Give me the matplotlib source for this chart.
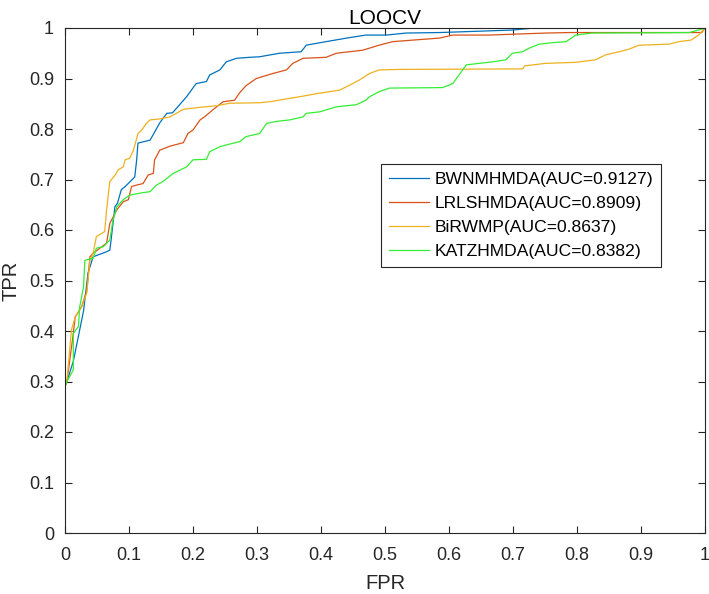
import matplotlib
matplotlib.use('Agg')
import matplotlib.pyplot as plt

plt.rcParams['font.family'] = ['Liberation Sans', 'DejaVu Sans']

labels = ['BWNMHMDA(AUC=0.9127)', 'LRLSHMDA(AUC=0.8909)',
          'BiRWMP(AUC=0.8637)', 'KATZHMDA(AUC=0.8382)']
colors = ['#0072BD', '#D95319', '#EDB120', '#33EE33']

# values
bwn_fpr = [0, 0, 0.003, 0.013, 0.029, 0.036, 0.044, 0.065, 0.07, 0.072, 0.078, 0.082, 0.088, 0.094,
           0.109, 0.112, 0.114, 0.133, 0.148, 0.159, 0.168, 0.19, 0.205, 0.221, 0.226, 0.242, 0.252,
           0.268, 0.289, 0.304, 0.335, 0.369, 0.377, 0.408, 0.44, 0.47, 0.502, 0.533, 0.585, 0.632,
           0.70, 0.733, 1.0]
bwn_tpr = [0, 0.29, 0.30, 0.34, 0.44, 0.515, 0.547, 0.557, 0.56, 0.58, 0.646, 0.653, 0.68, 0.686,
           0.705, 0.739, 0.772, 0.778, 0.812, 0.831, 0.832, 0.864, 0.89, 0.894, 0.907, 0.917, 0.933,
           0.94, 0.942, 0.943, 0.95, 0.953, 0.966, 0.973, 0.98, 0.986, 0.986, 0.99, 0.991, 0.993,
           0.996, 1.0, 1.0]

lrl_fpr = [0, 0, 0.003, 0.013, 0.016, 0.026, 0.034, 0.039, 0.044, 0.065, 0.07, 0.081, 0.091, 0.099,
           0.104, 0.112, 0.122, 0.13, 0.138, 0.14, 0.148, 0.164, 0.185, 0.192, 0.2, 0.211, 0.218,
           0.231, 0.247, 0.265, 0.273, 0.283, 0.299, 0.325, 0.346, 0.356, 0.372, 0.408, 0.424, 0.465,
           0.491, 0.512, 0.543, 0.585, 0.606, 0.663, 0.751, 0.788, 0.995, 1.0]
lrl_tpr = [0, 0.29, 0.30, 0.395, 0.428, 0.448, 0.48, 0.547, 0.554, 0.574, 0.613, 0.64, 0.656, 0.66,
           0.686, 0.689, 0.692, 0.709, 0.712, 0.739, 0.758, 0.766, 0.773, 0.791, 0.798, 0.818, 0.824,
           0.838, 0.854, 0.857, 0.872, 0.886, 0.9, 0.91, 0.917, 0.93, 0.94, 0.942, 0.95, 0.956,
           0.966, 0.973, 0.976, 0.98, 0.986, 0.986, 0.99, 0.991, 0.991, 1.0]

birw_fpr = [0, 0, 0.003, 0.01, 0.016, 0.026, 0.034, 0.039, 0.044, 0.049, 0.057, 0.062, 0.065, 0.07,
            0.078, 0.083, 0.091, 0.094, 0.101, 0.107, 0.114, 0.12, 0.127, 0.133, 0.148, 0.164, 0.185,
            0.211, 0.237, 0.257, 0.304, 0.32, 0.367, 0.398, 0.429, 0.445, 0.46, 0.476, 0.491, 0.523,
            0.715, 0.718, 0.751, 0.798, 0.829, 0.845, 0.866, 0.881, 0.897, 0.944, 0.959, 0.978,
            0.99, 1.0]
birw_tpr = [0, 0.29, 0.30, 0.402, 0.428, 0.448, 0.475, 0.54, 0.554, 0.587, 0.593, 0.597, 0.64, 0.696,
            0.708, 0.719, 0.725, 0.739, 0.742, 0.758, 0.791, 0.798, 0.811, 0.818, 0.82, 0.824, 0.839,
            0.843, 0.846, 0.851, 0.852, 0.854, 0.864, 0.871, 0.877, 0.887, 0.897, 0.91, 0.917, 0.918,
            0.919, 0.925, 0.93, 0.932, 0.937, 0.947, 0.953, 0.958, 0.966, 0.968, 0.973, 0.976,
            0.986, 1.0]

katz_fpr = [0, 0, 0.003, 0.013, 0.013, 0.021, 0.023, 0.029, 0.031, 0.044, 0.049, 0.06, 0.07, 0.075,
            0.081, 0.091, 0.101, 0.117, 0.133, 0.143, 0.153, 0.169, 0.19, 0.2, 0.221, 0.226, 0.242,
            0.257, 0.273, 0.283, 0.304, 0.315, 0.33, 0.351, 0.372, 0.377, 0.398, 0.424, 0.455, 0.47,
            0.476, 0.491, 0.507, 0.59, 0.606, 0.627, 0.647, 0.668, 0.689, 0.699, 0.715, 0.725, 0.741,
            0.762, 0.783, 0.798, 0.824, 0.975, 0.99, 1.0]
katz_tpr = [0, 0.29, 0.30, 0.323, 0.395, 0.409, 0.448, 0.488, 0.54, 0.544, 0.564, 0.567, 0.58, 0.62,
            0.646, 0.66, 0.669, 0.673, 0.676, 0.689, 0.696, 0.712, 0.725, 0.739, 0.74, 0.755, 0.765,
            0.77, 0.775, 0.785, 0.791, 0.811, 0.815, 0.818, 0.824, 0.831, 0.834, 0.844, 0.848, 0.857,
            0.864, 0.874, 0.881, 0.882, 0.89, 0.927, 0.93, 0.933, 0.937, 0.95, 0.953, 0.96, 0.968,
            0.971, 0.973, 0.986, 0.99, 0.991, 0.996, 1.0]

curves = [(bwn_fpr, bwn_tpr), (lrl_fpr, lrl_tpr), (birw_fpr, birw_tpr), (katz_fpr, katz_tpr)]
ticks = [0, 0.1, 0.2, 0.3, 0.4, 0.5, 0.6, 0.7, 0.8, 0.9, 1]
tick_labels = ['0', '0.1', '0.2', '0.3', '0.4', '0.5', '0.6', '0.7', '0.8', '0.9', '1']

fig = plt.figure(figsize=(7.09, 5.94), dpi=100)
ax = fig.add_axes([65 / 709, 1 - 533 / 594, 640 / 709, 505 / 594])

for (x, y), c, lab in zip(curves, colors, labels):
    ax.plot(x, y, color=c, lw=0.9, label=lab)

ax.set_xlim(0, 1)
ax.set_ylim(0, 1)
ax.set_xticks(ticks)
ax.set_xticklabels(tick_labels)
ax.set_yticks(ticks)
ax.set_yticklabels(tick_labels)
ax.tick_params(direction='in', top=True, right=True, length=5, width=0.8,
               colors='#262626', labelsize=13)
ax.tick_params(axis='x', pad=10)
ax.tick_params(axis='y', pad=8)
for s in ax.spines.values():
    s.set_color('#262626')
    s.set_linewidth(0.8)

ax.set_title('LOOCV', fontsize=15, color='#000000', pad=3)
ax.set_xlabel('FPR', fontsize=14.5, color='#262626', labelpad=7)
ax.set_ylabel('TPR', fontsize=14.5, color='#262626', labelpad=6)

leg = ax.legend(loc='upper left', bbox_to_anchor=(0.494, 0.731), borderaxespad=0,
                fontsize=12.6, frameon=True, fancybox=False, framealpha=1,
                edgecolor='#262626', handlelength=2.3, handletextpad=0.3,
                labelspacing=0.5, borderpad=0.45)
leg.get_frame().set_linewidth(0.8)

fig.savefig('out.png', dpi=100)
